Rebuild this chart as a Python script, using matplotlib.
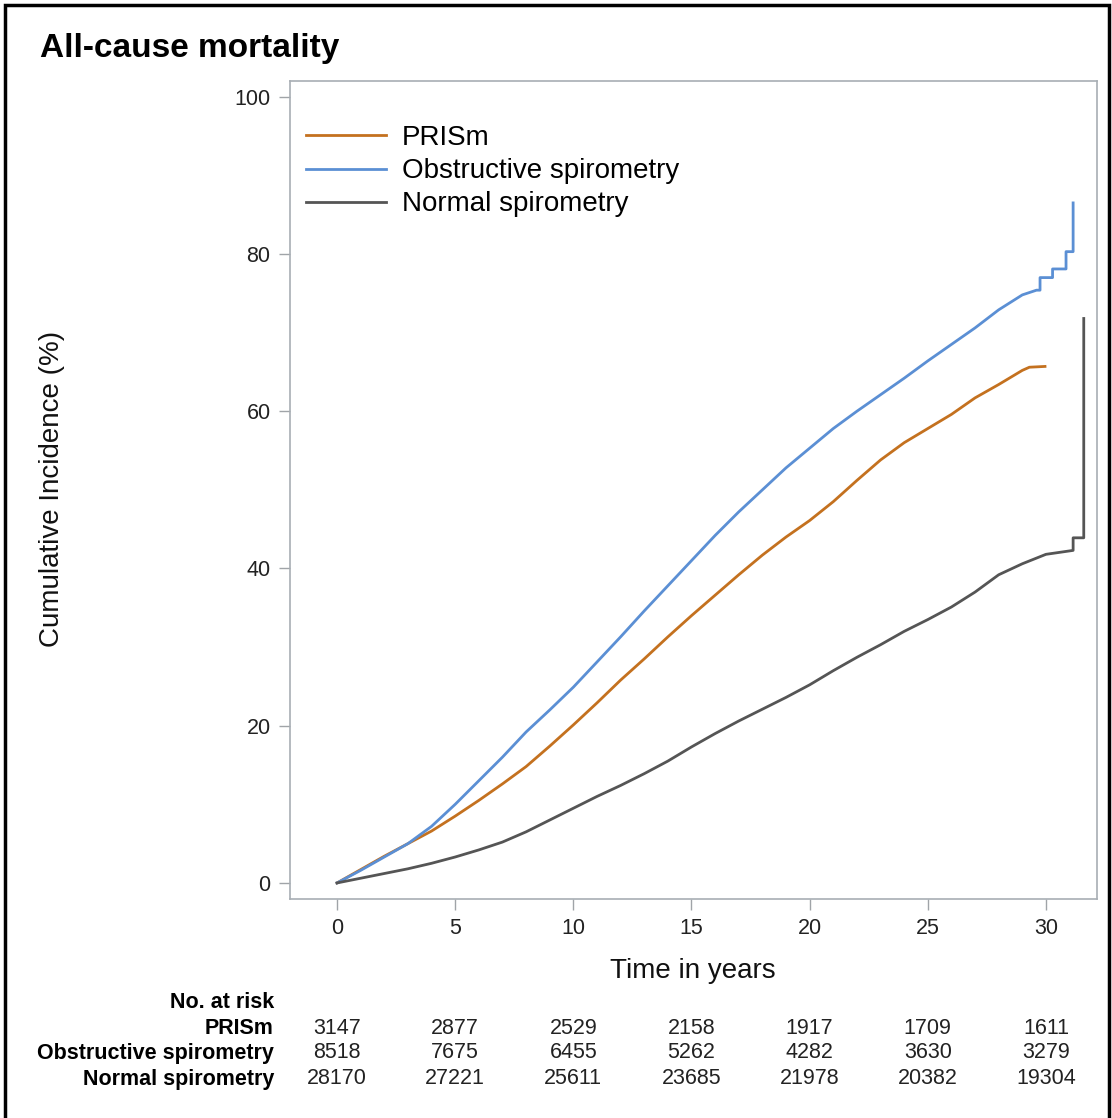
import numpy as np
import matplotlib.pyplot as plt
from matplotlib.patches import Rectangle
from matplotlib.transforms import blended_transform_factory

plt.rcParams['font.family'] = ['Liberation Sans', 'DejaVu Sans']

# ── Data ────────────────────────────────────────────────────────────────────────
t_prism = [0, 1, 2, 3, 4, 5, 6, 7, 8, 9, 10, 11, 12, 13, 14, 15, 16, 17, 18, 19,
           20, 21, 22, 23, 24, 25, 26, 27, 28, 29, 29.3, 29.96]
ci_prism = [0, 1.7, 3.4, 5.0, 6.6, 8.5, 10.5, 12.6, 14.8, 17.4, 20.1, 22.9, 25.8,
            28.5, 31.3, 34.0, 36.6, 39.2, 41.7, 44.0, 46.1, 48.5, 51.2, 53.8,
            56.0, 57.8, 59.6, 61.7, 63.4, 65.2, 65.6, 65.7]

t_obs = [0, 1, 2, 3, 4, 5, 6, 7, 8, 9, 10, 11, 12, 13, 14, 15, 16, 17, 18, 19,
         20, 21, 22, 23, 24, 25, 26, 27, 28, 29, 29.6, 29.75, 29.75, 30.28, 30.28,
         30.85, 30.85, 31.15, 31.15]
ci_obs = [0, 1.6, 3.3, 5.0, 7.2, 10.0, 13.0, 16.0, 19.2, 22.0, 24.9, 28.1, 31.3,
          34.6, 37.8, 41.0, 44.2, 47.2, 50.0, 52.8, 55.3, 57.8, 60.0, 62.1, 64.2,
          66.4, 68.5, 70.6, 72.9, 74.8, 75.4, 75.4, 77.0, 77.0, 78.1, 78.1, 80.3,
          80.3, 86.5]

t_norm = [0, 1, 2, 3, 4, 5, 6, 7, 8, 9, 10, 11, 12, 13, 14, 15, 16, 17, 18, 19,
          20, 21, 22, 23, 24, 25, 26, 27, 28, 29, 30, 31.15, 31.15, 31.6, 31.6]
ci_norm = [0, 0.6, 1.2, 1.8, 2.5, 3.3, 4.2, 5.2, 6.5, 8.0, 9.5, 11.0, 12.4, 13.9,
           15.5, 17.3, 19.0, 20.6, 22.1, 23.6, 25.2, 27.0, 28.7, 30.3, 32.0, 33.5,
           35.1, 37.0, 39.2, 40.6, 41.8, 42.3, 43.9, 43.9, 71.8]

risk_times = [0, 5, 10, 15, 20, 25, 30]
risk_groups = ['PRISm', 'Obstructive spirometry', 'Normal spirometry']
risk_prism = [3147, 2877, 2529, 2158, 1917, 1709, 1611]
risk_obs = [8518, 7675, 6455, 5262, 4282, 3630, 3279]
risk_norm = [28170, 27221, 25611, 23685, 21978, 20382, 19304]

C_PRISM = '#c4711f'
C_OBS = '#5b8fd4'
C_NORM = '#555555'

# ── Plot ────────────────────────────────────────────────────────────────────────
fig = plt.figure(figsize=(11.12, 11.18), dpi=100)
ax = fig.add_axes([0.2608, 0.1959, 0.7257, 0.7316])

ax.plot(t_prism, ci_prism, color=C_PRISM, lw=2.0, label='PRISm')
ax.plot(t_obs, ci_obs, color=C_OBS, lw=2.0, label='Obstructive spirometry')
ax.plot(t_norm, ci_norm, color=C_NORM, lw=2.0, label='Normal spirometry')

ax.set_xlim(-1.99, 32.16)
ax.set_ylim(-2.04, 102.0)
ax.set_xticks(risk_times)
ax.set_yticks([0, 20, 40, 60, 80, 100])
ax.tick_params(labelsize=15.5, colors='#a0a4a8', labelcolor='#222222',
               length=8, width=1, pad=6)
for s in ax.spines.values():
    s.set_color('#a8aeb4')
    s.set_linewidth(1.2)

ax.set_xlabel('Time in years', fontsize=20, color='#111111')
ax.xaxis.set_label_coords((693 - 290) / 807, -(971 - 899) / 818)
ax.set_ylabel('Cumulative Incidence (%)', fontsize=20, color='#111111')
ax.yaxis.set_label_coords(-(290 - 52) / 807, (899 - 489) / 818)
ax.xaxis.label.set_va('center')
ax.yaxis.label.set_va('center')

leg = ax.legend(loc='upper left', bbox_to_anchor=(-0.0044, 0.970), frameon=False,
                fontsize=20, handlelength=2.9, handletextpad=0.55,
                labelspacing=0.26, borderaxespad=0.3)

fig.text(40 / 1112, 1 - 48 / 1118, 'All-cause mortality', fontsize=24,
         fontweight='bold', va='center', ha='left')

# ── Number-at-risk table ────────────────────────────────────────────────────────
tr = blended_transform_factory(ax.transData, fig.transFigure)
row_y = [1 - 1028 / 1118, 1 - 1053 / 1118, 1 - 1079 / 1118]
fig.text(274 / 1112, 1 - 1002 / 1118, 'No. at risk', fontsize=15.5,
         fontweight='bold', ha='right', va='center')
for name, counts, y in zip(risk_groups, [risk_prism, risk_obs, risk_norm], row_y):
    fig.text(274 / 1112, y, name, fontsize=15.5, fontweight='bold',
             ha='right', va='center')
    for tt, n in zip(risk_times, counts):
        ax.text(tt, y, str(n), transform=tr, fontsize=15.5, ha='center',
                va='center', color='#222222')

# outer frame
fig.patches.append(Rectangle((5 / 1112, -0.01), 1104 / 1112, 1 - 5 / 1118 + 0.01,
                             transform=fig.transFigure, fill=False,
                             edgecolor='black', lw=2.5))

plt.savefig('out.png', dpi=100)
